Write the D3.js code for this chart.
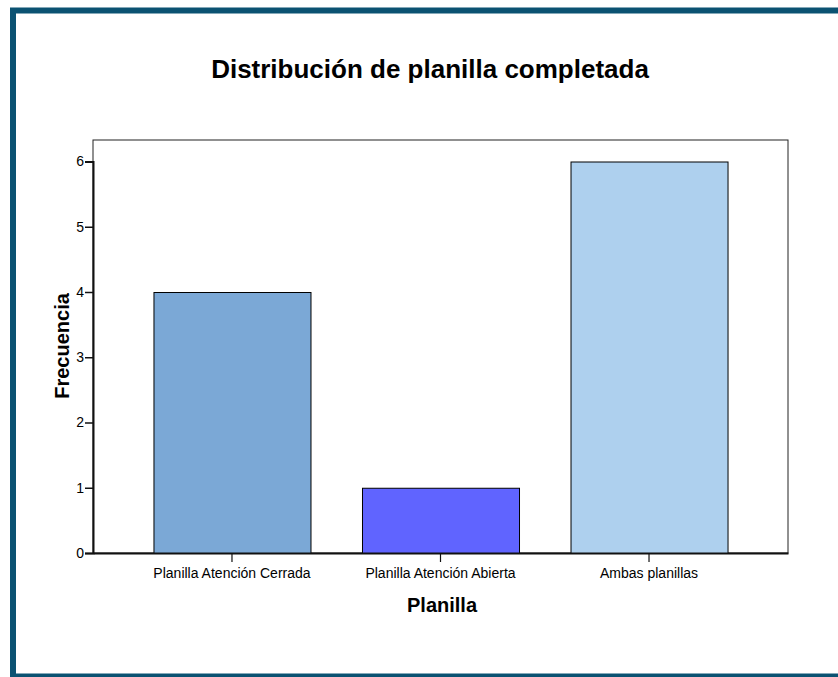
<!DOCTYPE html>
<html>
<head>
<meta charset="utf-8">
<script src="https://cdn.jsdelivr.net/npm/d3@7"></script>
<style>
  body { margin: 0; background: #fff; }
  svg text { font-family: "Liberation Sans", Arial, sans-serif; }
</style>
</head>
<body>
<div id="chart"></div>
<script>
// chart data
const categories = ["Planilla Atención Cerrada", "Planilla Atención Abierta", "Ambas planillas"];
const frecuencia = [4, 1, 6];
const barColors = ["#7ba8d6", "#6064ff", "#aed0ee"];
const yTicks = [0, 1, 2, 3, 4, 5, 6];

const W = 838, H = 677;
const plot = { left: 93, top: 140, right: 788, bottom: 553 };

const svg = d3.select("#chart").append("svg")
    .attr("width", W)
    .attr("height", H);

// frame around the whole chart
svg.append("rect")
    .attr("x", 13)
    .attr("y", 10.5)
    .attr("width", W + 10)
    .attr("height", 666)
    .attr("fill", "none")
    .attr("stroke", "#0b5272")
    .attr("stroke-width", 6);

// scales
const x = d3.scaleBand()
    .domain(categories)
    .range([plot.left, plot.right])
    .paddingInner(0.247)
    .paddingOuter(0.29);

const y = d3.scaleLinear()
    .domain([0, 6])
    .range([plot.bottom, 161.5]);

// plot box
svg.append("rect")
    .attr("x", plot.left)
    .attr("y", plot.top)
    .attr("width", plot.right - plot.left)
    .attr("height", plot.bottom - plot.top)
    .attr("fill", "#fff")
    .attr("stroke", "#222")
    .attr("stroke-width", 1);

// bars
svg.selectAll(".bar")
    .data(categories)
    .enter().append("rect")
    .attr("class", "bar")
    .attr("x", d => x(d) + 0.5)
    .attr("y", (d, i) => y(frecuencia[i]) + 0.5)
    .attr("width", x.bandwidth())
    .attr("height", (d, i) => y(0) - y(frecuencia[i]))
    .attr("fill", (d, i) => barColors[i])
    .attr("stroke", "#000")
    .attr("stroke-width", 1);

// y axis
const yAxis = svg.append("g")
    .attr("transform", `translate(${plot.left},0)`)
    .call(d3.axisLeft(y).tickValues(yTicks).tickFormat(d3.format("d")).tickSize(8).tickPadding(1));
yAxis.select(".domain").attr("stroke", "#111").attr("stroke-width", 2);
yAxis.selectAll(".tick line").attr("stroke", "#111").attr("stroke-width", 1.5);
yAxis.selectAll(".tick text").attr("font-size", 14).attr("fill", "#000");

// x axis
const xAxis = svg.append("g")
    .attr("transform", `translate(0,${plot.bottom})`)
    .call(d3.axisBottom(x).tickSize(9).tickSizeOuter(0).tickPadding(6));
xAxis.select(".domain").attr("stroke", "#111").attr("stroke-width", 2);
xAxis.selectAll(".tick line").attr("stroke", "#111").attr("stroke-width", 1.2);
xAxis.selectAll(".tick text").attr("font-size", 14).attr("fill", "#000");

// title and axis labels
svg.append("text")
    .attr("x", 430)
    .attr("y", 78)
    .attr("text-anchor", "middle")
    .attr("font-size", 26)
    .attr("font-weight", "bold")
    .text("Distribución de planilla completada");

svg.append("text")
    .attr("x", 442)
    .attr("y", 612)
    .attr("text-anchor", "middle")
    .attr("font-size", 20)
    .attr("font-weight", "bold")
    .text("Planilla");

svg.append("text")
    .attr("transform", "translate(69,346) rotate(-90)")
    .attr("text-anchor", "middle")
    .attr("font-size", 20)
    .attr("font-weight", "bold")
    .text("Frecuencia");
</script>
</body>
</html>
